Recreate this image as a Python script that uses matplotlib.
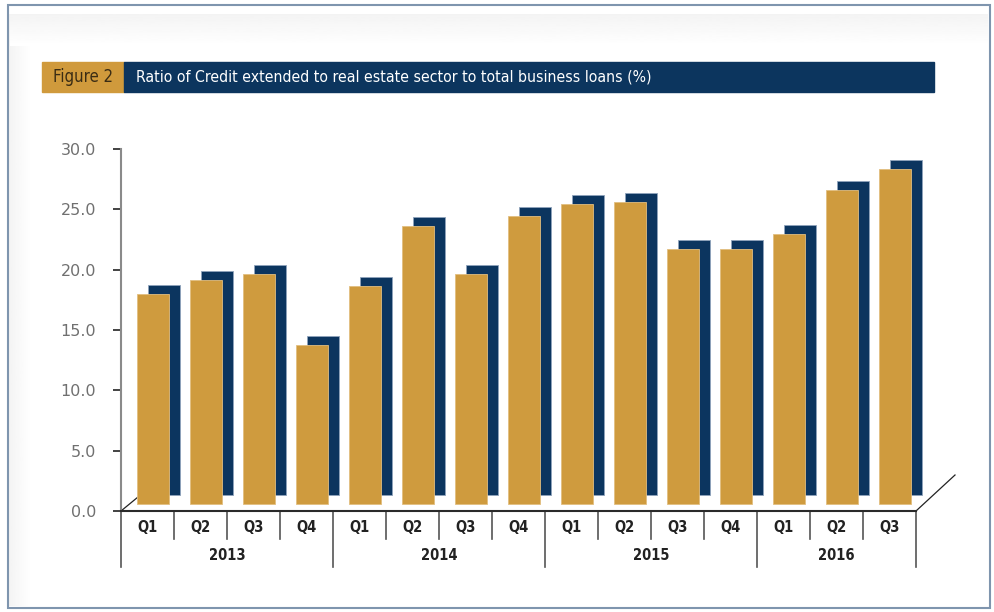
import numpy as np
import matplotlib.pyplot as plt
import matplotlib.transforms as mtransforms
from matplotlib.patches import Rectangle

# data
quarters = ['Q1', 'Q2', 'Q3', 'Q4',
            'Q1', 'Q2', 'Q3', 'Q4',
            'Q1', 'Q2', 'Q3', 'Q4',
            'Q1', 'Q2', 'Q3']
years = ['2013', '2014', '2015', '2016']
year_counts = [4, 4, 4, 3]
ratio = [17.4, 18.6, 19.1, 13.2,
         18.1, 23.0, 19.1, 23.9,
         24.9, 25.0, 21.1, 21.1,
         22.4, 26.0, 27.8]

GOLD = '#CF9B3E'
NAVY = '#0C355F'
W, H = 994, 612

fig = plt.figure(figsize=(W / 100, H / 100), dpi=100)

def fx(px):
    return px / W

def fy(py):
    return 1 - py / H

# faint shadow around the panel
shade = np.linspace(0.955, 1.0, 40).reshape(-1, 1)
bg = fig.add_axes([fx(10), fy(46), fx(978), (46 - 14) / H], zorder=-5)
bg.imshow(shade, cmap='gray', vmin=0, vmax=1, aspect='auto')
bg.axis('off')
bgl = fig.add_axes([fx(9), fy(606), fx(22), (606 - 14) / H], zorder=-6)
bgl.imshow(shade.T, cmap='gray', vmin=0, vmax=1, aspect='auto')
bgl.axis('off')

# frame
fig.patches.append(Rectangle((fx(8), fy(608)), fx(982), (608 - 5) / H,
                             transform=fig.transFigure, fill=False,
                             edgecolor='#7F95AE', linewidth=1.5))

# title banner
fig.patches.append(Rectangle((fx(42), fy(92)), fx(124 - 42), 30 / H,
                             transform=fig.transFigure, color='#D09A3C'))
fig.patches.append(Rectangle((fx(124), fy(92)), fx(934 - 124), 30 / H,
                             transform=fig.transFigure, color='#0C355E'))
fig.text(fx(83), fy(77), 'Figure 2', ha='center', va='center',
         color='#3A2C14', fontsize=12, fontstretch='condensed')
title = fig.text(fx(136), fy(77),
                 'Ratio of Credit extended to real estate sector to total business loans (%)',
                 ha='left', va='center', color='white', fontsize=11.5,
                 fontstretch='condensed')
# squeeze the title to the width it has in the original
r = fig.canvas.get_renderer()
wpx = title.get_window_extent(r).width
if wpx > 520:
    title.set_fontsize(11.5 * 516 / wpx)

# plot area
ax = fig.add_axes([fx(121), fy(511), fx(916 - 121), (511 - 149) / H])
x = np.arange(len(ratio))
ax.set_xlim(-0.5, len(ratio) - 0.5)
ax.set_ylim(0, 30)

back = ax.transData + mtransforms.ScaledTranslation(16.5 / 100, 16 / 100, fig.dpi_scale_trans)
front = ax.transData + mtransforms.ScaledTranslation(5.5 / 100, 7 / 100, fig.dpi_scale_trans)
ax.bar(x, ratio, width=0.6, color=NAVY, edgecolor='#8FA3BC', linewidth=0.6,
       transform=back, clip_on=False, zorder=2)
ax.bar(x, ratio, width=0.6, color=GOLD, edgecolor='#E2BE80', linewidth=0.6,
       transform=front, clip_on=False, zorder=3)

ax.set_yticks(np.arange(0, 31, 5))
ax.set_yticklabels([f'{v:.1f}' for v in np.arange(0, 31, 5)])
ax.tick_params(axis='y', length=6, width=1.2, color='#222222', pad=12,
               labelsize=11.5, labelcolor='#707070')
ax.set_xticks([])
for s in ['top', 'right']:
    ax.spines[s].set_visible(False)
ax.spines['left'].set_color('#8A8A8A')
ax.spines['left'].set_linewidth(1.5)
ax.spines['bottom'].set_color('#2A2A2A')
ax.spines['bottom'].set_linewidth(1.5)

# floor diagonals
ax.plot([0, 17 / 795], [0, 14 / 362], transform=ax.transAxes, color='#222222',
        linewidth=0.9, clip_on=False)
ax.plot([1, 1 + 39 / 795], [0, 36 / 362], transform=ax.transAxes, color='#222222',
        linewidth=0.9, clip_on=False)

# category table under the axis
tb = mtransforms.blended_transform_factory(ax.transData, ax.transAxes)
q_low = -(539 - 511) / 362
y_low = -(567 - 511) / 362
year_edges = np.cumsum([0] + year_counts) - 0.5
for b in np.arange(len(ratio) + 1) - 0.5:
    bottom = y_low if np.any(np.isclose(year_edges, b)) else q_low
    ax.plot([b, b], [0, bottom], transform=tb, color='#555555',
            linewidth=1.2, clip_on=False)
for i, q in enumerate(quarters):
    ax.text(i, -(528 - 511) / 362, q, transform=tb, ha='center', va='center',
            fontsize=10.5, fontweight='bold', color='#222222', fontstretch='condensed')
for k, yr in enumerate(years):
    mid = (year_edges[k] + year_edges[k + 1]) / 2
    ax.text(mid, -(556 - 511) / 362, yr, transform=tb, ha='center', va='center',
            fontsize=10.5, fontweight='bold', color='#222222', fontstretch='condensed')

fig.savefig('out.png', dpi=100)
